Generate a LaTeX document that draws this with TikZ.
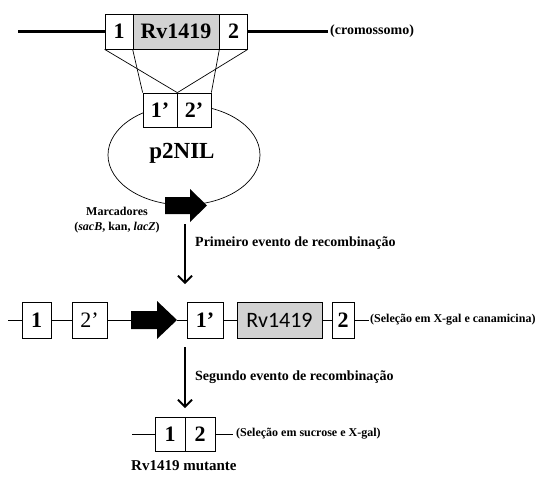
\documentclass[tikz,border=0pt]{standalone}
\usepackage{fontspec}
\setmainfont{Liberation Serif}
\newfontfamily\calib{Carlito}
\usetikzlibrary{arrows.meta}
\begin{document}
\begin{tikzpicture}[x=1pt,y=-1pt,
  gene/.style={draw, line width=0.7pt, fill=white, minimum height=35pt, inner sep=0pt,
    font=\fontsize{22}{24}\selectfont\bfseries},
  gray gene/.style={gene, fill=gray!35},
  lbl/.style={font=\fontsize{14}{16}\selectfont\bfseries, inner sep=0pt},
  small lbl/.style={font=\fontsize{12}{14}\selectfont\bfseries, inner sep=0pt},
  thin line/.style={line width=0.7pt},
  event/.style={line width=1.8pt, -{Straight Barb[length=7pt,width=14pt,line width=1.8pt]}},
  marker/.style={fill=black}
]
\useasboundingbox (0,0) rectangle (544,480);

% ---- chromosome
\node[gene, minimum width=28pt] (b1) at (119,31.5) {1};
\node[gray gene, minimum width=86pt] (rv) at (176,31.5) {Rv1419};
\node[gene, minimum width=28pt] (b2) at (233.5,31.5) {2};
\coordinate (cl) at (18,31.5);
\coordinate (cr) at (328,31.5);
\draw[line width=2.2pt] (cl) -- (b1.west);
\draw[line width=2.2pt] (b2.east) -- (cr);
\node[lbl, anchor=west] (crom) at (330,31.5) {(cromossomo)};

% ---- plasmid
\draw[thin line] (184,155) ellipse [x radius=76, y radius=50];
\node[gene, minimum width=34pt, minimum height=34pt] (p1) at (160,110) {1’};
\node[gene, minimum width=34pt, minimum height=34pt] (p2) at (194,110) {2’};
\draw[thin line] (b1.south west) -- (p1.north east);
\draw[thin line] (b2.south east) -- (p1.north east);
\draw[thin line] (rv.south west) -- (p1.north west);
\draw[thin line] (rv.south east) -- (p2.north east);
\node[font=\fontsize{23}{25}\selectfont\bfseries] (p2nil) at (182,153) {p2NIL};
\fill[marker] (165,197) -- (190,197) -- (190,189) -- (207,205.5) -- (190,222) -- (190,214) -- (165,214) -- cycle;
\node[small lbl, align=center] (marc) at (117,220) {Marcadores\\[1pt](\textit{sacB}, kan, \textit{lacZ})};

% ---- first event
\coordinate (e1s) at (185,224);
\coordinate (e1e) at (185,284);
\draw[event] (e1s) -- (e1e);
\node[lbl, anchor=west] (ev1) at (195,243) {Primeiro evento de recombinação};

% ---- cointegrate
\node[gene, minimum width=29pt, minimum height=36pt] (r1) at (36.5,320) {1};
\node[gene, minimum width=35pt, minimum height=36pt, font=\fontsize{22}{24}\selectfont] (r2a) at (89.5,320) {2’};
\node[gene, minimum width=36pt, minimum height=36pt] (r1a) at (205,320) {1’};
\node[gray gene, minimum width=85pt, minimum height=36pt, font=\fontsize{22}{24}\calib] (rrv) at (279.5,320) {Rv1419};
\node[gene, minimum width=22pt, minimum height=36pt] (r2) at (343,320) {2};
\coordinate (rl) at (8,320);
\coordinate (rr) at (369,320);
\coordinate (mk2) at (131,320);
\coordinate (mk2t) at (177,320);
\draw[thin line] (rl) -- (r1.west);
\draw[thin line] (r1.east) -- (r2a.west);
\draw[thin line] (r2a.east) -- (mk2);
\draw[thin line] (mk2t) -- (r1a.west);
\draw[thin line] (r1a.east) -- (rrv.west);
\draw[thin line] (rrv.east) -- (r2.west);
\draw[thin line] (r2.east) -- (rr);
\fill[marker] (131,311) -- (157,311) -- (157,301) -- (177,320) -- (157,339) -- (157,329) -- (131,329) -- cycle;
\node[small lbl, anchor=west] (sel1) at (370,320) {(Seleção em X-gal e canamicina)};

% ---- second event
\coordinate (e2s) at (185,347);
\coordinate (e2e) at (185,408);
\draw[event] (e2s) -- (e2e);
\node[lbl, anchor=west] (ev2) at (195,377) {Segundo evento de recombinação};

% ---- mutant
\node[gene, minimum width=30pt, minimum height=34pt] (q1) at (170,434) {1};
\node[gene, minimum width=30pt, minimum height=34pt] (q2) at (200,434) {2};
\coordinate (ql) at (132,434);
\coordinate (qr) at (233,434);
\draw[thin line] (ql) -- (q1.west);
\draw[thin line] (q2.east) -- (qr);
\node[small lbl, anchor=west] (sel2) at (236,434) {(Seleção em sucrose e X-gal)};
\node[font=\fontsize{15}{17}\selectfont\bfseries, anchor=west, inner sep=0pt] (mut) at (131,466) {Rv1419 mutante};
\end{tikzpicture}
\end{document}
